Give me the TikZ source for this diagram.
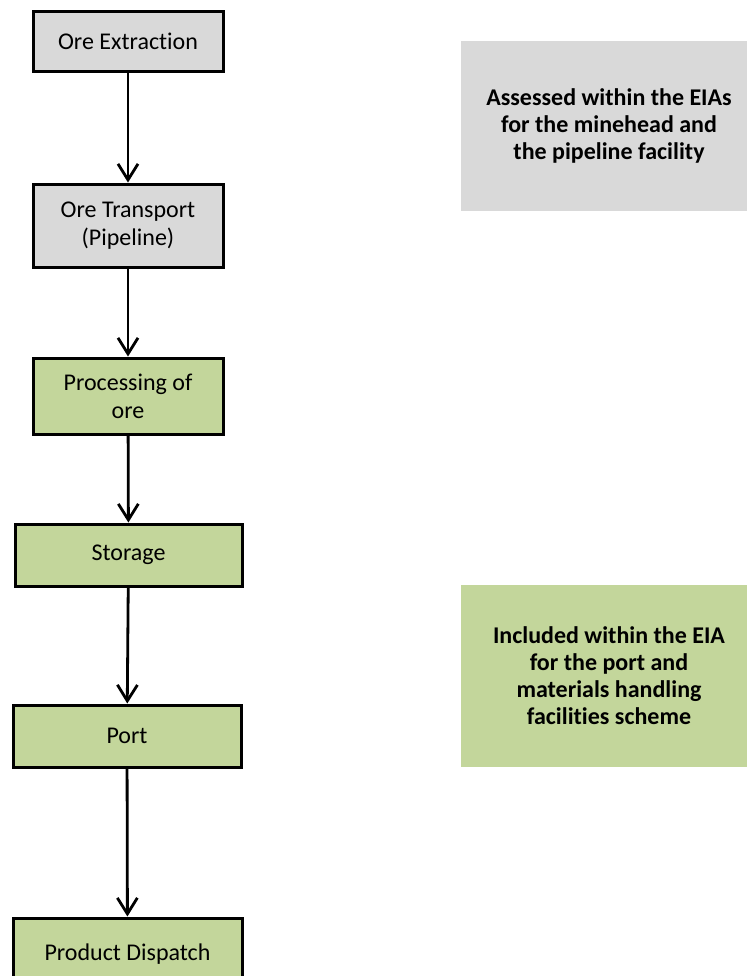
\documentclass[tikz,border=0pt]{standalone}
\usepackage{fontspec}
\setmainfont[Ligatures=NoCommon]{Carlito}
\usetikzlibrary{arrows.meta}
\definecolor{boxgrey}{HTML}{D9D9D9}
\definecolor{boxgreen}{HTML}{C3D69B}
\begin{document}
\begin{tikzpicture}[x=0.5pt,y=-0.5pt,
    stage/.style={draw=black,line width=1.5pt,align=center,inner sep=0pt,
        font=\fontsize{12}{14}\selectfont},
    greystage/.style={stage,fill=boxgrey},
    greenstage/.style={stage,fill=boxgreen},
    note/.style={align=center,inner sep=0pt,minimum width=148pt,
        font=\fontsize{12}{13.5}\selectfont\bfseries},
    flow/.style={line width=1.4pt,-{Straight Barb[length=8pt,width=10pt,line width=1.4pt]}}]
    % Rahmen
    \useasboundingbox (0,0) rectangle (747,976);

    % Prozessschritte
    \node[greystage,minimum width=95pt,minimum height=30pt] (extract) at (128,41) {Ore Extraction};
    \node[greystage,minimum width=95pt,minimum height=41.5pt] (transport) at (128,225.5) {Ore Transport\\(Pipeline)};
    \node[greenstage,minimum width=95pt,minimum height=38pt] (process) at (128,396) {Processing of\\ore};
    \node[greenstage,minimum width=113.5pt,minimum height=31pt] (storage) at (128.5,555) {Storage};
    \node[greenstage,minimum width=114pt,minimum height=31pt] (port) at (127,736) {Port};
    \node[greenstage,minimum width=114.5pt,minimum height=36pt] (dispatch) at (127.5,954) {Product Dispatch};

    % Pfeile
    \draw[flow] (extract) -- (transport);
    \draw[flow] (transport) -- (process);
    \draw[flow] (process) -- (storage);
    \draw[flow] (storage) -- (port);
    \draw[flow] (port) -- (dispatch);

    % Hinweise rechts
    \node[note,fill=boxgrey,minimum height=85pt] (eiamine) at (609,126)
        {Assessed within the EIAs\\for the minehead and\\the pipeline facility};
    \node[note,fill=boxgreen,minimum height=91pt] (eiaport) at (609,676)
        {Included within the EIA\\for the port and\\materials handling\\facilities scheme};
\end{tikzpicture}
\end{document}
